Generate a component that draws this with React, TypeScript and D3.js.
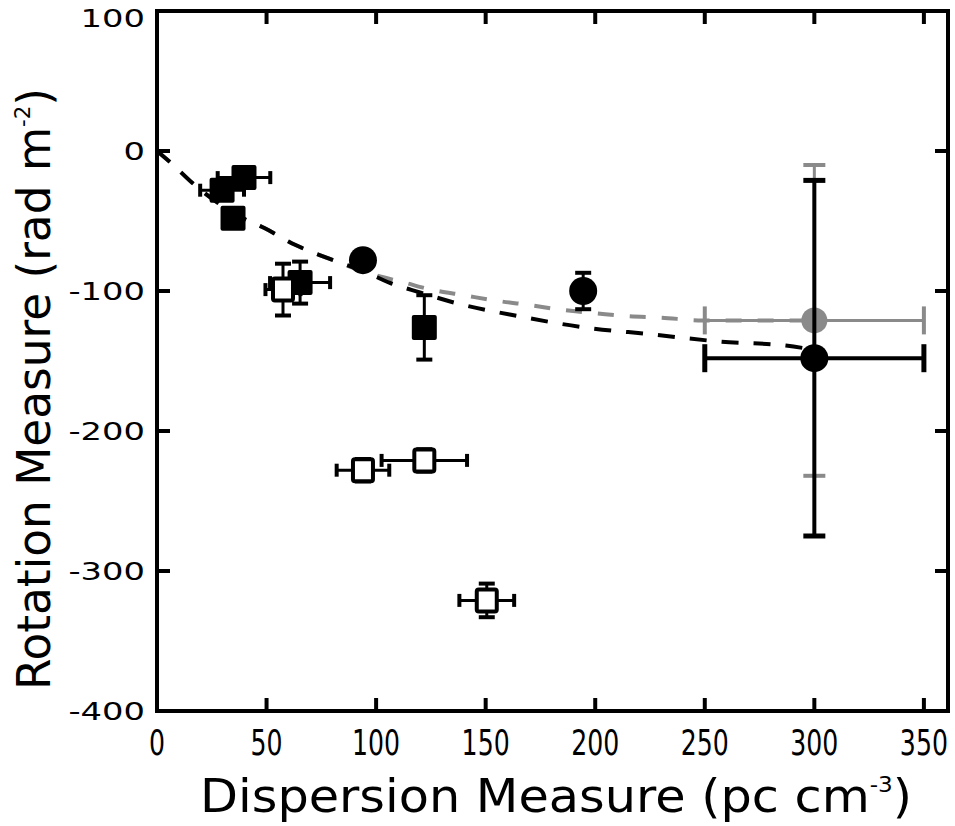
import React from 'react';
import * as d3 from 'd3';

// filled squares
const fsDM = [29.7, 39.7, 34.7, 65.3, 122];
const fsRM = [-28, -19, -48, -94, -126];
const fsDMErr = [10, 12, 0, 13.7, 0];
const fsRMErr = [0, 0, 0, 15, 23];

// open squares
const osDM = [57.5, 94, 122, 150.5];
const osRM = [-99, -228, -221, -321];
const osDMErr = [8, 12, 19.5, 12.5];
const osRMErr = [18.5, 8, 8, 12];

// filled circles
const fcDM = [94, 194.5];
const fcRM = [-78, -100];
const fcDMErr = [0, 0];
const fcRMErr = [0, 13];

// the big point at 300, black and grey
const bigDM = [300];
const bigRM = [-148];
const bigDMErr = [50];
const bigRMErr = [127];
const greyDM = [300];
const greyRM = [-121];
const greyDMErr = [50];
const greyRMErr = [111];

// fitted curves
const blackCurveDM = [0, 6, 17, 38, 49, 63, 77, 96, 106, 120, 135, 165, 195, 226, 256, 287, 300];
const blackCurveRM = [0, -8, -24, -47, -55, -67, -76, -87, -94, -101, -108, -118, -126, -131, -136, -139, -142];
const greyCurveDM = [0, 6, 17, 38, 49, 63, 77, 96, 113, 125, 140, 155, 170, 185, 201, 215, 230, 249, 300];
const greyCurveRM = [0, -8, -24, -47, -55, -67, -76, -87, -94, -99, -103, -107, -110, -113.5, -116, -118, -119, -121, -121];

const xTicks = [0, 50, 100, 150, 200, 250, 300, 350];
const yTicks = [100, 0, -100, -200, -300, -400];

const font = '"DejaVu Sans", sans-serif';

export default function App() {
  const width = 955;
  const height = 826;

  const x = d3.scaleLinear().domain([0, 361]).range([157, 948]);
  const y = d3.scaleLinear().domain([-400, 100]).range([711, 11]);

  const line = d3.line<[number, number]>()
    .x(d => x(d[0]))
    .y(d => y(d[1]))
    .curve(d3.curveMonotoneX);

  const blackPts = blackCurveDM.map((d, i) => [d, blackCurveRM[i]] as [number, number]);
  const greyPts = greyCurveDM.map((d, i) => [d, greyCurveRM[i]] as [number, number]);

  const errBars = (dm: number[], rm: number[], dmErr: number[], rmErr: number[], color: string, capH: number, capV: number, sw: number, key: string) =>
    dm.map((d, i) => {
      const cx = x(d), cy = y(rm[i]);
      const out = [];
      if (dmErr[i] > 0) {
        const x0 = x(d - dmErr[i]), x1 = x(d + dmErr[i]);
        out.push(<line key="h" x1={x0} x2={x1} y1={cy} y2={cy} stroke={color} strokeWidth={sw} />);
        out.push(<line key="hc0" x1={x0} x2={x0} y1={cy - capH / 2} y2={cy + capH / 2} stroke={color} strokeWidth={sw + 1} />);
        out.push(<line key="hc1" x1={x1} x2={x1} y1={cy - capH / 2} y2={cy + capH / 2} stroke={color} strokeWidth={sw + 1} />);
      }
      if (rmErr[i] > 0) {
        const y0 = y(rm[i] + rmErr[i]), y1 = y(rm[i] - rmErr[i]);
        out.push(<line key="v" x1={cx} x2={cx} y1={y0} y2={y1} stroke={color} strokeWidth={sw} />);
        out.push(<line key="vc0" x1={cx - capV / 2} x2={cx + capV / 2} y1={y0} y2={y0} stroke={color} strokeWidth={sw + 1} />);
        out.push(<line key="vc1" x1={cx - capV / 2} x2={cx + capV / 2} y1={y1} y2={y1} stroke={color} strokeWidth={sw + 1} />);
      }
      return <g key={key + i}>{out}</g>;
    });

  return (
    <svg width={width} height={height} style={{ position: 'absolute', left: 0, top: 0, background: '#fff' }}>
      {/* curves */}
      <path d={line(greyPts) || ''} fill="none" stroke="#8a8a8a" strokeWidth={4} strokeDasharray="16,16" />
      <path d={line(blackPts) || ''} fill="none" stroke="#000" strokeWidth={4} strokeDasharray="17,15" />

      {/* grey point */}
      {errBars(greyDM, greyRM, greyDMErr, greyRMErr, '#8a8a8a', 28, 22, 3, 'ge')}
      {greyDM.map((d, i) => <circle key={'g' + i} cx={x(d)} cy={y(greyRM[i])} r={13} fill="#8a8a8a" />)}

      {/* error bars */}
      {errBars(fsDM, fsRM, fsDMErr, fsRMErr, '#000', 13, 16, 3, 'fse')}
      {errBars(osDM, osRM, osDMErr, osRMErr, '#000', 13, 16, 3, 'ose')}
      {errBars(fcDM, fcRM, fcDMErr, fcRMErr, '#000', 13, 16, 3, 'fce')}
      {errBars(bigDM, bigRM, bigDMErr, bigRMErr, '#000', 28, 22, 4, 'be')}

      {/* markers */}
      {fsDM.map((d, i) => <rect key={'fs' + i} x={x(d) - 12.5} y={y(fsRM[i]) - 12.5} width={25} height={25} rx={2} fill="#000" />)}
      {osDM.map((d, i) => <rect key={'os' + i} x={x(d) - 10} y={y(osRM[i]) - 11} width={20} height={22} rx={2} fill="#fff" stroke="#000" strokeWidth={4} />)}
      {fcDM.map((d, i) => <circle key={'fc' + i} cx={x(d)} cy={y(fcRM[i])} r={14} fill="#000" />)}
      {bigDM.map((d, i) => <circle key={'b' + i} cx={x(d)} cy={y(bigRM[i])} r={14} fill="#000" />)}

      {/* frame */}
      <rect x={x(0)} y={y(100)} width={x(361) - x(0)} height={y(-400) - y(100)} fill="none" stroke="#000" strokeWidth={4} />
      {xTicks.map(t => (
        <g key={'xt' + t}>
          <line x1={x(t)} x2={x(t)} y1={y(-400)} y2={y(-400) - 13} stroke="#000" strokeWidth={4} />
          <line x1={x(t)} x2={x(t)} y1={y(100)} y2={y(100) + 13} stroke="#000" strokeWidth={4} />
          <text x={x(t)} y={755} transform={`translate(${x(t)},0) scale(0.7,1) translate(${-x(t)},0)`} textAnchor="middle" fontFamily={font} fontSize={36}>{t}</text>
        </g>
      ))}
      {yTicks.map(t => (
        <g key={'yt' + t}>
          <line x1={x(0)} x2={x(0) + 13} y1={y(t)} y2={y(t)} stroke="#000" strokeWidth={4} />
          <line x1={x(361)} x2={x(361) - 13} y1={y(t)} y2={y(t)} stroke="#000" strokeWidth={4} />
          <text x={145} y={Math.max(y(t) + 9, 27)} transform="translate(145,0) scale(1.35,1) translate(-145,0)" textAnchor="end" fontFamily={font} fontSize={25}>{t}</text>
        </g>
      ))}

      {/* axis titles */}
      <text x={200} y={812} fontFamily={font} fontSize={47} textLength={712} lengthAdjust="spacingAndGlyphs">
        Dispersion Measure (pc cm<tspan dy={-20} fontSize={22}>-3</tspan><tspan dy={20}>)</tspan>
      </text>
      <text transform="translate(50,690) rotate(-90)" x={0} y={0} fontFamily={font} fontSize={47} textLength={602} lengthAdjust="spacingAndGlyphs">
        Rotation Measure (rad m<tspan dy={-20} fontSize={22}>-2</tspan><tspan dy={20}>)</tspan>
      </text>
    </svg>
  );
}
